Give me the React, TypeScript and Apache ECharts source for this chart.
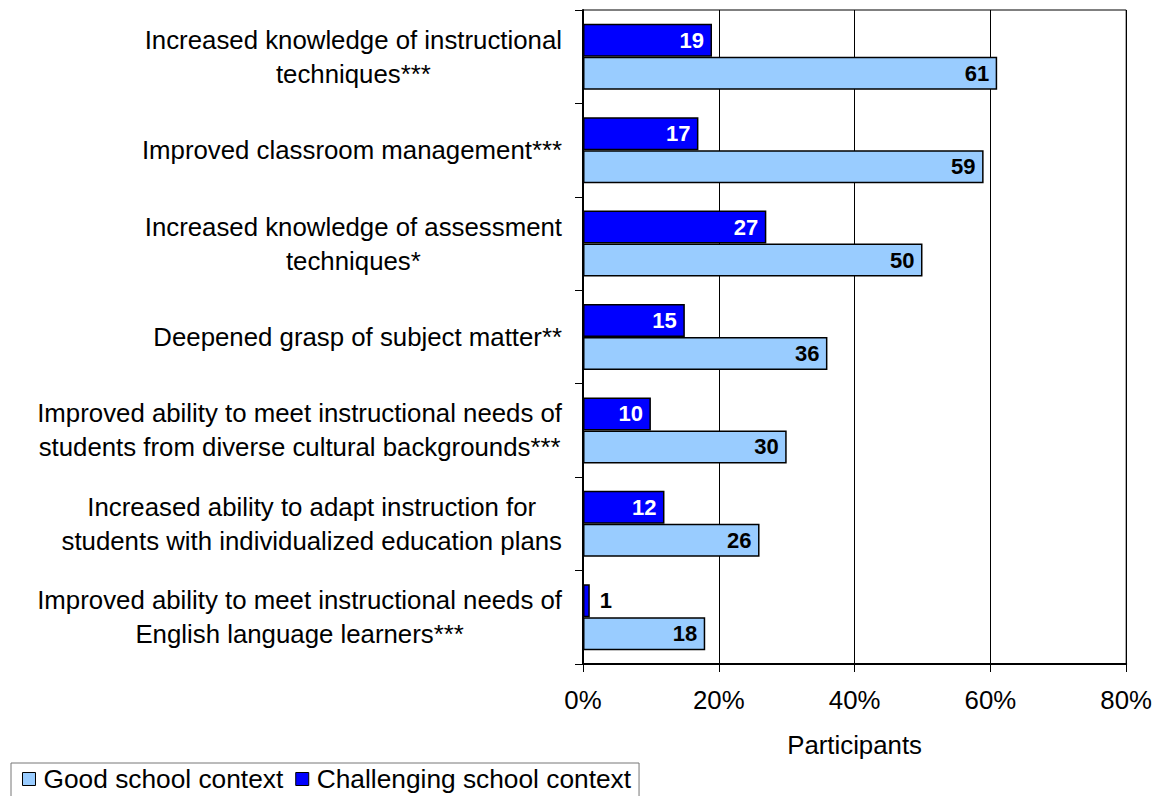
import React, { useEffect, useRef } from "react";
import * as echarts from "echarts";

const categories = [
  "Increased knowledge of instructional\ntechniques***",
  "Improved classroom management***",
  "Increased knowledge of assessment\ntechniques*",
  "Deepened grasp of subject matter**",
  "Improved ability to meet instructional needs of\nstudents from diverse cultural backgrounds***",
  "Increased ability to adapt instruction for\nstudents with individualized education plans",
  "Improved ability to meet instructional needs of\nEnglish language learners***",
];
const challenging = [19, 17, 27, 15, 10, 12, 1];
const good = [61, 59, 50, 36, 30, 26, 18];
const xTicks = { min: 0, max: 80, interval: 20 };
const seriesNames = ["Good school context", "Challenging school context"];

const FONT = "Liberation Sans, Arial, sans-serif";
const FS = 25.8;

export default function App() {
  const ref = useRef<HTMLDivElement>(null);
  useEffect(() => {
    if (!ref.current) return;
    const chart = echarts.init(ref.current, null, { renderer: "svg" });
    const barLabel = (color: string) => ({
      show: true,
      position: "insideRight",
      distance: 8,
      color,
      fontFamily: FONT,
      fontWeight: "bold",
      fontSize: 22,
    });
    chart.setOption({
      animation: false,
      backgroundColor: "#fff",
      textStyle: { fontFamily: FONT },
      grid: {
        left: 583,
        right: 28,
        top: 10,
        bottom: 132,
        show: true,
        borderColor: "#000",
        borderWidth: 1,
      },
      legend: {
        data: seriesNames,
        left: 11,
        top: 763,
        orient: "horizontal",
        icon: "rect",
        itemWidth: 13,
        itemHeight: 13,
        itemGap: 12,
        padding: [3, 8, 12, 11],
        borderColor: "#777",
        borderWidth: 1,
        itemStyle: { borderColor: "#000", borderWidth: 1 },
        textStyle: { fontFamily: FONT, fontSize: 26.3, color: "#000", padding: [0, 0, 0, 3] },
      },
      xAxis: {
        type: "value",
        min: xTicks.min,
        max: xTicks.max,
        interval: xTicks.interval,
        name: "Participants",
        nameLocation: "middle",
        nameGap: 68,
        nameTextStyle: { fontFamily: FONT, fontSize: FS, color: "#000" },
        axisLine: { show: true, lineStyle: { color: "#000", width: 2 } },
        axisTick: { show: true, length: 8, lineStyle: { color: "#000", width: 1 } },
        axisLabel: {
          formatter: "{value}%",
          fontFamily: FONT,
          fontSize: FS,
          color: "#000",
          margin: 23,
        },
        splitLine: { show: true, lineStyle: { color: "#000", width: 1 } },
      },
      yAxis: {
        type: "category",
        inverse: true,
        data: categories,
        axisLine: { show: true, lineStyle: { color: "#000", width: 2 } },
        axisTick: { show: true, length: 8, lineStyle: { color: "#000", width: 1 } },
        axisLabel: {
          margin: 21,
          align: "right",
          formatter: (v: string) =>
            v
              .split("\n")
              .map((l) => "{c|" + l + "}")
              .join("\n"),
          rich: {
            c: {
              align: "center",
              fontFamily: FONT,
              fontSize: FS,
              lineHeight: 34,
              color: "#000",
            },
          },
        },
      },
      series: [
        {
          name: seriesNames[1],
          type: "bar",
          data: challenging.map((v) =>
            v < 3
              ? { value: v, label: { position: "right", color: "#000", distance: 10 } }
              : v
          ),
          barWidth: 33,
          barGap: "0%",
          itemStyle: { color: "#0000FF", borderColor: "#000", borderWidth: 1.5 },
          label: barLabel("#fff"),
        },
        {
          name: seriesNames[0],
          type: "bar",
          data: good,
          barWidth: 33,
          barGap: "0%",
          itemStyle: { color: "#99CCFF", borderColor: "#000", borderWidth: 1.5 },
          label: barLabel("#000"),
        },
      ],
    });
    return () => chart.dispose();
  }, []);
  return (
    <div
      ref={ref}
      style={{ position: "fixed", left: 0, top: 0, width: 1155, height: 796, background: "#fff" }}
    />
  );
}
